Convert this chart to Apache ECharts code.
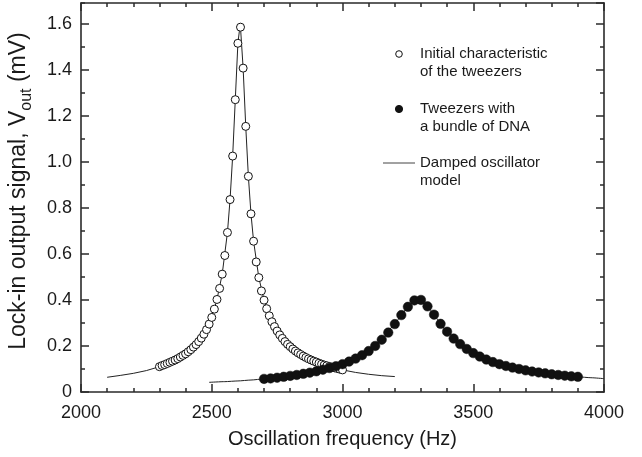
<!DOCTYPE html>
<html>
<head>
<meta charset="utf-8">
<script src="https://cdn.jsdelivr.net/npm/echarts@6/dist/echarts.min.js"></script>
<style>
html,body{margin:0;padding:0;background:#fff;}
#chart{width:642px;height:457px;}
</style>
</head>
<body>
<div id="chart"></div>
<script>
// Initial characteristic of the tweezers (open circles)
var openFreq = [
  2300,2310,2320,2330,2340,2350,2360,2370,2380,2390,
  2400,2410,2420,2430,2440,2450,2460,2470,2480,2490,
  2500,2510,2520,2530,2540,2550,2560,2570,2580,2590,
  2600,2610,2620,2630,2640,2650,2660,2670,2680,2690,
  2700,2710,2720,2730,2740,2750,2760,2770,2780,2790,
  2800,2810,2820,2830,2840,2850,2860,2870,2880,2890,
  2900,2910,2920,2930,2940,2950,2960,2970,2980,2990,
  3000
];
var openVal = [
  0.110,0.115,0.119,0.124,0.129,0.134,0.139,0.145,0.152,0.159,
  0.166,0.175,0.184,0.195,0.206,0.219,0.234,0.251,0.271,0.295,
  0.324,0.360,0.402,0.450,0.512,0.593,0.693,0.836,1.025,1.270,
  1.515,1.585,1.407,1.154,0.937,0.774,0.655,0.565,0.497,0.439,
  0.399,0.362,0.331,0.305,0.284,0.265,0.248,0.233,0.219,0.207,
  0.197,0.187,0.178,0.170,0.163,0.156,0.150,0.144,0.139,0.134,
  0.130,0.125,0.121,0.117,0.114,0.111,0.108,0.105,0.102,0.099,
  0.096
];
// Tweezers with a bundle of DNA (filled circles)
var dnaFreq = [
  2700,2725,2750,2775,2800,2825,2850,2875,2900,2925,
  2950,2975,3000,3025,3050,3075,3100,3125,3150,3175,
  3200,3225,3250,3275,3300,3325,3350,3375,3400,3425,
  3450,3475,3500,3525,3550,3575,3600,3625,3650,3675,
  3700,3725,3750,3775,3800,3825,3850,3875,3900
];
var dnaVal = [
  0.057,0.059,0.062,0.066,0.070,0.074,0.079,0.084,0.090,0.097,
  0.104,0.112,0.121,0.132,0.145,0.160,0.178,0.200,0.227,0.258,
  0.295,0.334,0.370,0.398,0.400,0.372,0.336,0.296,0.262,0.232,
  0.208,0.187,0.169,0.154,0.141,0.130,0.121,0.113,0.106,0.100,
  0.094,0.089,0.085,0.081,0.077,0.074,0.071,0.068,0.066
];
// Damped oscillator model curves
var fitOpenFreq = [2100,2150,2200,2250,2300,2350,2400,2450,2480,2500,2520,2540,2560,2570,2580,2590,2600,2609,2620,2630,2640,2650,2660,2680,2700,2720,2750,2800,2850,2900,2950,3000,3050,3100,3150,3200];
var fitOpenVal  = [0.064,0.072,0.081,0.093,0.110,0.134,0.166,0.219,0.271,0.324,0.402,0.512,0.693,0.836,1.025,1.270,1.515,1.600,1.407,1.154,0.937,0.774,0.655,0.497,0.399,0.331,0.265,0.197,0.156,0.130,0.111,0.096,0.085,0.077,0.071,0.067];
var fitDnaFreq = [2490,2550,2600,2650,2700,2750,2800,2850,2900,2950,3000,3050,3100,3150,3200,3225,3250,3275,3288,3300,3325,3350,3375,3400,3450,3500,3550,3600,3650,3700,3750,3800,3850,3900,3950,4000];
var fitDnaVal  = [0.042,0.045,0.048,0.052,0.057,0.062,0.070,0.079,0.090,0.104,0.121,0.145,0.178,0.227,0.295,0.334,0.370,0.396,0.403,0.400,0.372,0.336,0.296,0.262,0.208,0.169,0.141,0.121,0.106,0.094,0.085,0.077,0.071,0.066,0.062,0.058];

var xTicks = [2000, 2500, 3000, 3500, 4000];
var yTicks = [0, 0.2, 0.4, 0.6, 0.8, 1.0, 1.2, 1.4, 1.6];

function pairs(xs, ys){ return xs.map(function(x,i){ return [x, ys[i]]; }); }

var FONT = "'Liberation Sans', Arial, sans-serif";
var AX = '#2a2a2a';

var chart = echarts.init(document.getElementById('chart'), null, {renderer:'canvas'});

function xAx(pos, showLabel){
  return {
    type:'value', position:pos, min:xTicks[0], max:xTicks[xTicks.length-1], interval:500,
    axisLine:{show:true, onZero:false, lineStyle:{color:AX, width:1.6}},
    axisTick:{show:true, inside:true, length:8, lineStyle:{color:AX, width:1.5}},
    minorTick:{show:true, splitNumber:5, length:4, lineStyle:{color:AX, width:1.5}},
    splitLine:{show:false}, minorSplitLine:{show:false},
    axisLabel:{show:showLabel, margin:12, color:'#1a1a1a', fontSize:18, fontFamily:FONT,
      formatter:function(v){ return String(v); }}
  };
}
function yAx(pos, major, showLabel){
  return {
    type:'value', position:pos, min:yTicks[0], max:1.69, interval: major ? 0.2 : 0.1,
    axisLine:{show: major, onZero:false, lineStyle:{color:AX, width:1.6}},
    axisTick:{show:true, inside:true, length: major ? 8 : 4, lineStyle:{color:AX, width:1.5}},
    splitLine:{show:false},
    axisLabel:{show:showLabel, margin:9, color:'#1a1a1a', fontSize:18, fontFamily:FONT,
      showMaxLabel:false,
      formatter:function(v){ return v === 0 ? '0' : v.toFixed(1); }}
  };
}

var option = {
  animation:false,
  backgroundColor:'#ffffff',
  grid:{left:81, right:38, top:3, bottom:65, containLabel:false},
  xAxis:[
    Object.assign(xAx('bottom', true), {
      name:'Oscillation frequency (Hz)', nameLocation:'middle', nameGap:37,
      nameTextStyle:{fontSize:20, fontFamily:FONT, color:'#1a1a1a'}
    }),
    xAx('top', false)
  ],
  yAxis:[
    yAx('left', true, true),
    yAx('left', false, false),
    yAx('right', true, false),
    yAx('right', false, false)
  ],
  graphic:[
    {type:'text', x:19, y:191, rotation:Math.PI/2,
      style:{text:'{a|Lock-in output signal, V}{s|out}{a| (mV)}', align:'center', verticalAlign:'middle',
        fill:'#1a1a1a',
        rich:{
          a:{fontSize:23, fontFamily:FONT, lineHeight:31, fill:'#1a1a1a'},
          s:{fontSize:16, fontFamily:FONT, lineHeight:16, verticalAlign:'bottom', fill:'#1a1a1a'}
        }}},
    {type:'circle', shape:{cx:399, cy:54, r:3.3}, style:{fill:'#fff', stroke:'#111', lineWidth:1}},
    {type:'text', x:420, y:45, style:{text:'Initial characteristic\nof the tweezers', fontSize:15, lineHeight:18, fontFamily:FONT, fill:'#1a1a1a', verticalAlign:'top'}},
    {type:'circle', shape:{cx:399, cy:109, r:3.6}, style:{fill:'#111', stroke:'#111', lineWidth:1}},
    {type:'text', x:420, y:100, style:{text:'Tweezers with\na bundle of DNA', fontSize:15, lineHeight:18, fontFamily:FONT, fill:'#1a1a1a', verticalAlign:'top'}},
    {type:'line', shape:{x1:383, y1:163, x2:415, y2:163}, style:{stroke:'#444', lineWidth:1}},
    {type:'text', x:420, y:154, style:{text:'Damped oscillator\nmodel', fontSize:15, lineHeight:18, fontFamily:FONT, fill:'#1a1a1a', verticalAlign:'top'}}
  ],
  series:[
    {type:'line', name:'Damped oscillator model', data:pairs(fitOpenFreq, fitOpenVal), showSymbol:false, symbol:'none',
      lineStyle:{color:'#222', width:1}, z:2, silent:true},
    {type:'line', name:'Damped oscillator model 2', data:pairs(fitDnaFreq, fitDnaVal), showSymbol:false, symbol:'none',
      smooth:0.2, smoothMonotone:'x',
      lineStyle:{color:'#222', width:1}, z:2, silent:true},
    {type:'scatter', name:'Initial characteristic of the tweezers', data:pairs(openFreq, openVal), symbol:'circle', symbolSize:8,
      itemStyle:{color:'#ffffff', borderColor:'#111', borderWidth:1, opacity:1}, z:3},
    {type:'scatter', name:'Tweezers with a bundle of DNA', data:pairs(dnaFreq, dnaVal), symbol:'circle', symbolSize:9.5,
      itemStyle:{color:'#111', borderColor:'#111', borderWidth:0.5, opacity:1}, z:4}
  ]
};
chart.setOption(option);
</script>
</body>
</html>
